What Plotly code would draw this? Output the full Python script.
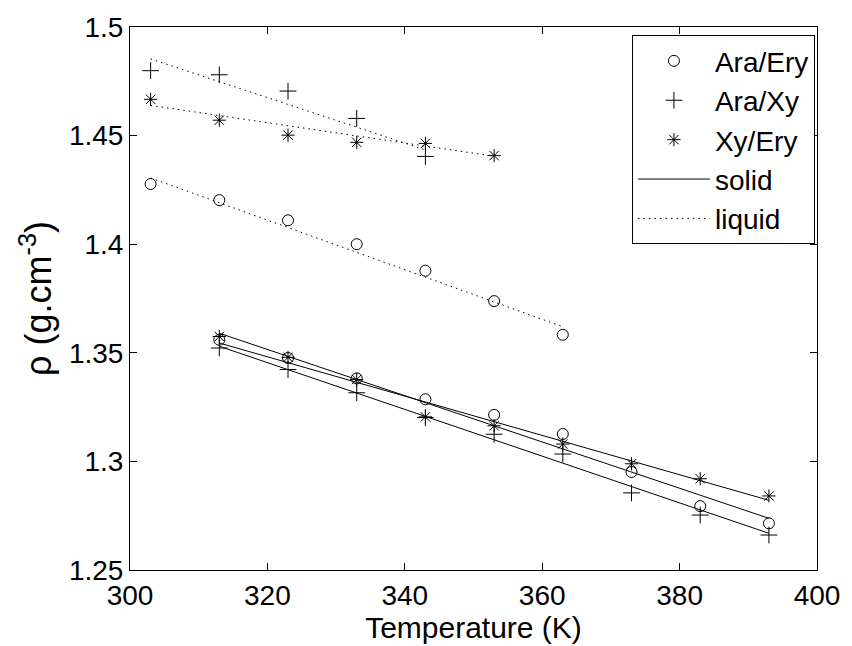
import plotly.graph_objects as go

# ---- data ----
T_liquid = [303, 313, 323, 333, 343, 353, 363]
rho_liq_ara_ery = [1.4277, 1.4203, 1.4110, 1.4000, 1.3878, 1.3738, 1.3583]
T_liq_ara_xy = [303, 313, 323, 333, 343]
rho_liq_ara_xy = [1.4799, 1.4780, 1.4705, 1.4579, 1.4404]
T_liq_xy_ery = [303, 313, 323, 333, 343, 353]
rho_liq_xy_ery = [1.4667, 1.4571, 1.4502, 1.4469, 1.4464, 1.4408]

T_solid = [313, 323, 333, 343, 353, 363, 373, 383, 393]
rho_sol_ara_ery = [1.3560, 1.3476, 1.3382, 1.3286, 1.3214, 1.3126, 1.2951, 1.2794, 1.2715]
rho_sol_ara_xy = [1.3522, 1.3423, 1.3316, 1.3202, 1.3125, 1.3034, 1.2855, 1.2753, 1.2661]
rho_sol_xy_ery = [1.3575, 1.3479, 1.3377, 1.3205, 1.3164, 1.3080, 1.2989, 1.2920, 1.2841]

# fitted line endpoints
fit_liq_ara_ery_T = [303, 363]
fit_liq_ara_ery = [1.4305, 1.3620]
fit_liq_ara_xy_T = [303, 343]
fit_liq_ara_xy = [1.4853, 1.4434]
fit_liq_xy_ery_T = [303, 353]
fit_liq_xy_ery = [1.4639, 1.4405]
fit_sol_T = [313, 393]
fit_sol_ara_ery = [1.3590, 1.2738]
fit_sol_ara_xy = [1.3530, 1.2669]
fit_sol_xy_ery = [1.3545, 1.2821]

x_ticks = [300, 320, 340, 360, 380, 400]
y_ticks = [1.25, 1.3, 1.35, 1.4, 1.45, 1.5]
y_ticklabels = ["1.25", "1.3", "1.35", "1.4", "1.45", "1.5"]

FONT = "Liberation Sans, Arial, sans-serif"
fig = go.Figure()

mk = dict(color="black", line=dict(color="black", width=1))
fig.add_trace(go.Scatter(
    x=T_liquid + T_solid, y=rho_liq_ara_ery + rho_sol_ara_ery, mode="markers",
    name="Ara/Ery", marker=dict(symbol="circle-open", size=11, **mk)))
fig.add_trace(go.Scatter(
    x=T_liq_ara_xy + T_solid, y=rho_liq_ara_xy + rho_sol_ara_xy, mode="markers",
    name="Ara/Xy", marker=dict(symbol="cross-thin-open", size=12, **mk)))
fig.add_trace(go.Scatter(
    x=T_liq_xy_ery + T_solid, y=rho_liq_xy_ery + rho_sol_xy_ery, mode="markers",
    name="Xy/Ery", marker=dict(symbol="asterisk-open", size=11, **mk)))

solid_fits = [fit_sol_ara_ery, fit_sol_ara_xy, fit_sol_xy_ery]
for i, f in enumerate(solid_fits):
    fig.add_trace(go.Scatter(
        x=fit_sol_T, y=f, mode="lines", name="solid", showlegend=(i == 0),
        line=dict(color="black", width=1)))

liq_fits = [(fit_liq_ara_ery_T, fit_liq_ara_ery), (fit_liq_ara_xy_T, fit_liq_ara_xy),
            (fit_liq_xy_ery_T, fit_liq_xy_ery)]
for i, (t, f) in enumerate(liq_fits):
    fig.add_trace(go.Scatter(
        x=t, y=f, mode="lines", name="liquid", showlegend=(i == 0),
        line=dict(color="black", width=1, dash="1.5px,4px")))

axis_common = dict(
    showgrid=False, zeroline=False, showline=True, linecolor="black", linewidth=1,
    mirror="ticks", ticks="inside", ticklen=7, tickcolor="black",
    tickfont=dict(family=FONT, size=28, color="black"),
)
fig.update_xaxes(range=[300, 400], tickvals=x_ticks,
                 title=dict(text="Temperature (K)", font=dict(family=FONT, size=30, color="black"), standoff=0),
                 **axis_common)
fig.update_yaxes(range=[1.25, 1.5], tickvals=y_ticks, ticktext=y_ticklabels,
                 title=dict(text="ρ (g.cm<sup>-3</sup>)", font=dict(family=FONT, size=36, color="black"), standoff=6),
                 **axis_common)

fig.update_layout(
    width=852, height=646,
    margin=dict(l=130, r=28, t=23, b=76),
    paper_bgcolor="white", plot_bgcolor="white",
    legend=dict(x=0.997, y=0.985, xanchor="right", yanchor="top",
                bgcolor="white", bordercolor="black", borderwidth=1,
                font=dict(family=FONT, size=28, color="black"),
                tracegroupgap=0, itemwidth=72),
    showlegend=True,
)
fig.write_html("out.html")
